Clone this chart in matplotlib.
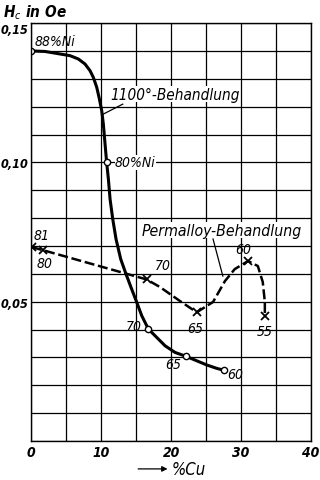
import matplotlib.pyplot as plt

plt.rcParams['font.family'] = ['DejaVu Sans']
plt.rcParams['font.stretch'] = 'condensed'

# 1100 deg treatment (solid), trace
cu_1100 = [0, 2.0, 4.14, 5.57, 6.76, 7.71, 8.43, 8.9, 9.39, 9.76, 10.1, 10.33, 10.8, 11.05, 11.29,
           11.67, 12.14, 12.81, 13.57, 14.38, 15.1, 15.81, 16.76, 17.95, 19.14, 20.57, 22.14,
           23.67, 25.1, 26.5, 27.57]
hc_1100 = [0.1400, 0.1398, 0.1389, 0.1383, 0.1371, 0.1353, 0.1329, 0.1305, 0.1269, 0.1228, 0.1185,
           0.1137, 0.1000, 0.0940, 0.0868, 0.0797, 0.0725, 0.0653, 0.0599, 0.0545, 0.0498, 0.0450,
           0.0402, 0.0372, 0.0342, 0.0318, 0.0304, 0.0288, 0.0273, 0.0261, 0.0254]
# measured points (circles)
cu_1100_pts = [0, 10.8, 16.76, 22.14, 27.57]
hc_1100_pts = [0.1400, 0.1000, 0.0402, 0.0304, 0.0254]

# Permalloy treatment (dashed)
cu_perm = [0.1, 1.7, 16.5, 18.4, 21.3, 23.67, 26.0, 27.7, 29.1, 31.0, 32.4, 33.1, 33.4, 33.4]
hc_perm = [0.0696, 0.0685, 0.0580, 0.0553, 0.0502, 0.0462, 0.0499, 0.0574, 0.0617, 0.0646, 0.0628,
           0.0571, 0.0499, 0.0449]
cu_perm_pts = [0.1, 1.7, 16.5, 23.67, 31.0, 33.4]
hc_perm_pts = [0.0696, 0.0685, 0.0580, 0.0462, 0.0646, 0.0449]

fig = plt.figure(figsize=(3.2, 4.81), dpi=100)
ax = fig.add_axes([0.097, 0.081, 0.875, 0.869])

ax.plot(cu_1100, hc_1100, color='black', lw=2.2, solid_capstyle='round', solid_joinstyle='round')
ax.plot(cu_1100_pts, hc_1100_pts, 'o', ms=4.5, mfc='white', mec='black', mew=1.0)
ax.plot(cu_perm, hc_perm, color='black', lw=1.8, dashes=(4, 1.5))
ax.plot(cu_perm_pts, hc_perm_pts, 'x', ms=5.5, color='black', mew=1.3)

ax.set_xlim(0, 40)
ax.set_ylim(0, 0.15)
ax.set_xticks(range(0, 41, 5))
ax.set_xticklabels(['0', '', '10', '', '20', '', '30', '', '40'])
ax.set_yticks([i / 100 for i in range(16)])
ax.set_yticklabels(['0,05' if i == 5 else '0,10' if i == 10 else '0,15' if i == 15 else '' for i in range(16)])
ax.grid(True, color='black', lw=0.9)
for s in ax.spines.values():
    s.set_linewidth(1.0)
ax.tick_params(axis='x', length=0, labelsize=10, pad=3)
ax.tick_params(axis='y', length=0, labelsize=9, pad=1.5)
for t in ax.get_xticklabels() + ax.get_yticklabels():
    t.set_style('italic')
    t.set_fontweight('bold')
ax.get_yticklabels()[15].set_va('top')

txt = dict(style='italic', color='black')
ax.text(0.55, 0.1434, '88%Ni', **txt, fontsize=10, va='center')
ax.text(11.3, 0.1245, '1100°-Behandlung', **txt, va='center', fontsize=11,
        bbox=dict(fc='white', ec='none', pad=0.5))
ax.plot([10.3, 13.1], [0.1173, 0.1209], color='black', lw=0.9)
ax.text(12.0, 0.1000, '80%Ni', **txt, fontsize=10, va='center',
        bbox=dict(fc='white', ec='none', pad=0.3))
ax.text(15.8, 0.0757, 'Permalloy-Behandlung', **txt, va='center', fontsize=11.3,
        bbox=dict(fc='white', ec='none', pad=0.5))
ax.plot([26.0, 27.4], [0.0725, 0.0592], color='black', lw=0.9)

num = dict(style='italic', color='black', fontsize=10, va='center')
ax.text(0.3, 0.0739, '81', **num)
ax.text(0.85, 0.0640, '80', **num)
ax.text(17.7, 0.0630, '70', **num)
ax.text(22.3, 0.0407, '65', **num)
ax.text(29.1, 0.0689, '60', **num)
ax.text(32.3, 0.0395, '55', **num)
ax.text(15.9, 0.0413, '70', **num, ha='right')
ax.text(19.1, 0.0276, '65', **num)
ax.text(28.0, 0.0239, '60', **num)

fig.text(0.01, 0.974, 'H$_c$ in Oe', style='italic', fontsize=11, va='center', fontweight='bold')
ax.annotate('', xy=(19.9, -0.0100), xytext=(14.9, -0.0100), xycoords='data',
            annotation_clip=False,
            arrowprops=dict(arrowstyle='-|>', color='black', lw=0.9, mutation_scale=8))
ax.text(20.1, -0.0100, '%Cu', style='italic', fontsize=12, va='center', clip_on=False)

fig.savefig('out.png', dpi=100)
